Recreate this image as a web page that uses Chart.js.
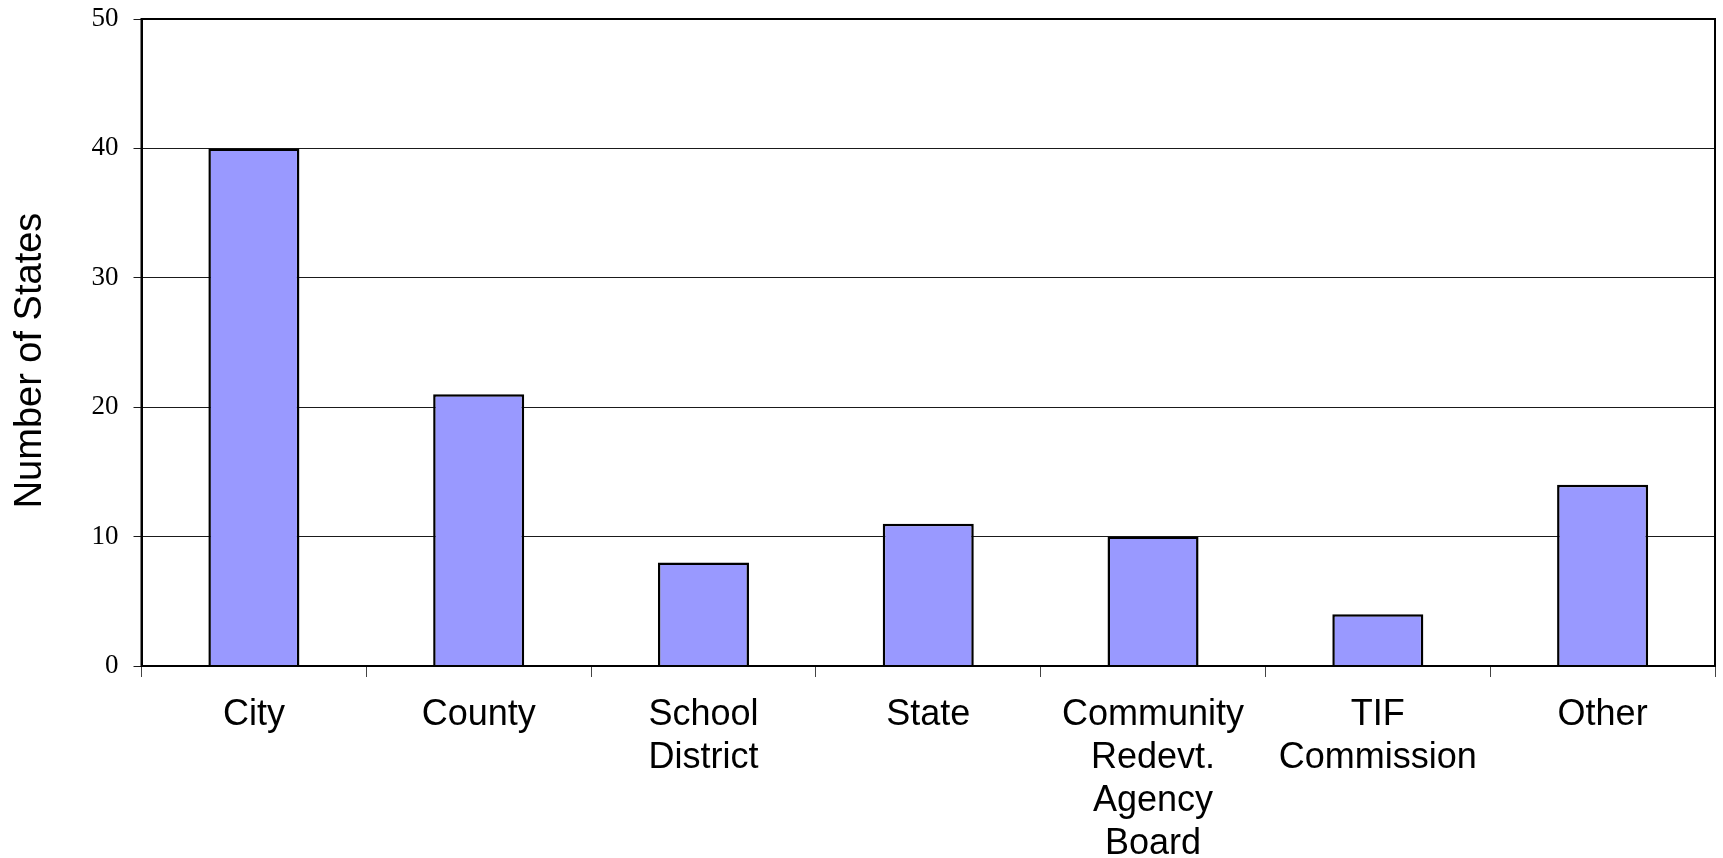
<!DOCTYPE html>
<html>
<head>
<meta charset="utf-8">
<script src="https://cdn.jsdelivr.net/npm/chart.js@4/dist/chart.umd.min.js"></script>
<style>
  body { margin: 0; background: #fff; }
  #wrap { width: 1723px; height: 858px; position: relative; }
</style>
</head>
<body>
<div id="wrap"><canvas id="barChart"></canvas></div>
<script>
// categories (multi-line labels) and values
const categories = [
    ["City"],
    ["County"],
    ["School", "District"],
    ["State"],
    ["Community", "Redevt.", "Agency", "Board"],
    ["TIF", "Commission"],
    ["Other"]
];
const stateCounts = [40, 21, 8, 11, 10, 4, 14];
const yTicks = [0, 10, 20, 30, 40, 50];
const yTitle = "Number of States";

// box round the plot area, and the y title (sits a bit below the middle)
const frame = {
    id: "frame",
    afterDraw(chart) {
        const a = chart.chartArea;
        const ctx = chart.ctx;
        ctx.save();
        ctx.strokeStyle = "#000";
        ctx.lineWidth = 2;
        ctx.strokeRect(a.left, a.top, a.right - a.left, a.bottom - a.top);

        ctx.translate(31, (a.top + a.bottom) / 2 + 18);
        ctx.rotate(-Math.PI / 2);
        ctx.fillStyle = "#000";
        ctx.font = "38px 'Liberation Sans', Arial";
        ctx.textAlign = "center";
        ctx.textBaseline = "middle";
        ctx.fillText(yTitle, 0, 0);
        ctx.restore();
    }
};

const ctx = document.getElementById("barChart").getContext("2d");
new Chart(ctx, {
    type: "bar",
    data: {
        labels: categories,
        datasets: [
            {
                label: yTitle,
                data: stateCounts,
                backgroundColor: "#9999FF",
                borderColor: "#000",
                borderWidth: 2.5,
                barPercentage: 0.405,
                categoryPercentage: 1
            }
        ]
    },
    options: {
        responsive: true,
        maintainAspectRatio: false,
        animation: false,
        layout: { padding: { top: 19, right: 8, left: 0, bottom: 0 } },
        plugins: {
            legend: { display: false },
            tooltip: { enabled: false }
        },
        scales: {
            x: {
                grid: {
                    offset: true,
                    drawOnChartArea: false,
                    color: "#444",
                    tickLength: 11
                },
                border: { color: "#000", width: 2 },
                ticks: {
                    color: "#000",
                    padding: 16,
                    maxRotation: 0,
                    autoSkip: false,
                    font: { family: "'Liberation Sans', Arial", size: 36, lineHeight: 1.2 }
                },
                afterFit(scale) {
                    scale.height = 192;
                    scale.paddingLeft = 0;
                    scale.paddingRight = 0;
                }
            },
            y: {
                min: 0,
                max: 50,
                afterBuildTicks(scale) {
                    scale.ticks = yTicks.map(v => ({ value: v }));
                },
                grid: {
                    color: "#1a1a1a",
                    lineWidth: 1,
                    tickLength: 8
                },
                border: { color: "#000", width: 2 },
                ticks: {
                    color: "#000",
                    padding: 15,
                    font: { family: "'Liberation Serif', 'Times New Roman'", size: 27 }
                },
                afterFit(scale) {
                    scale.width = 141.5;
                    scale.paddingTop = 0;
                    scale.paddingBottom = 0;
                }
            }
        }
    },
    plugins: [frame]
});
</script>
</body>
</html>
